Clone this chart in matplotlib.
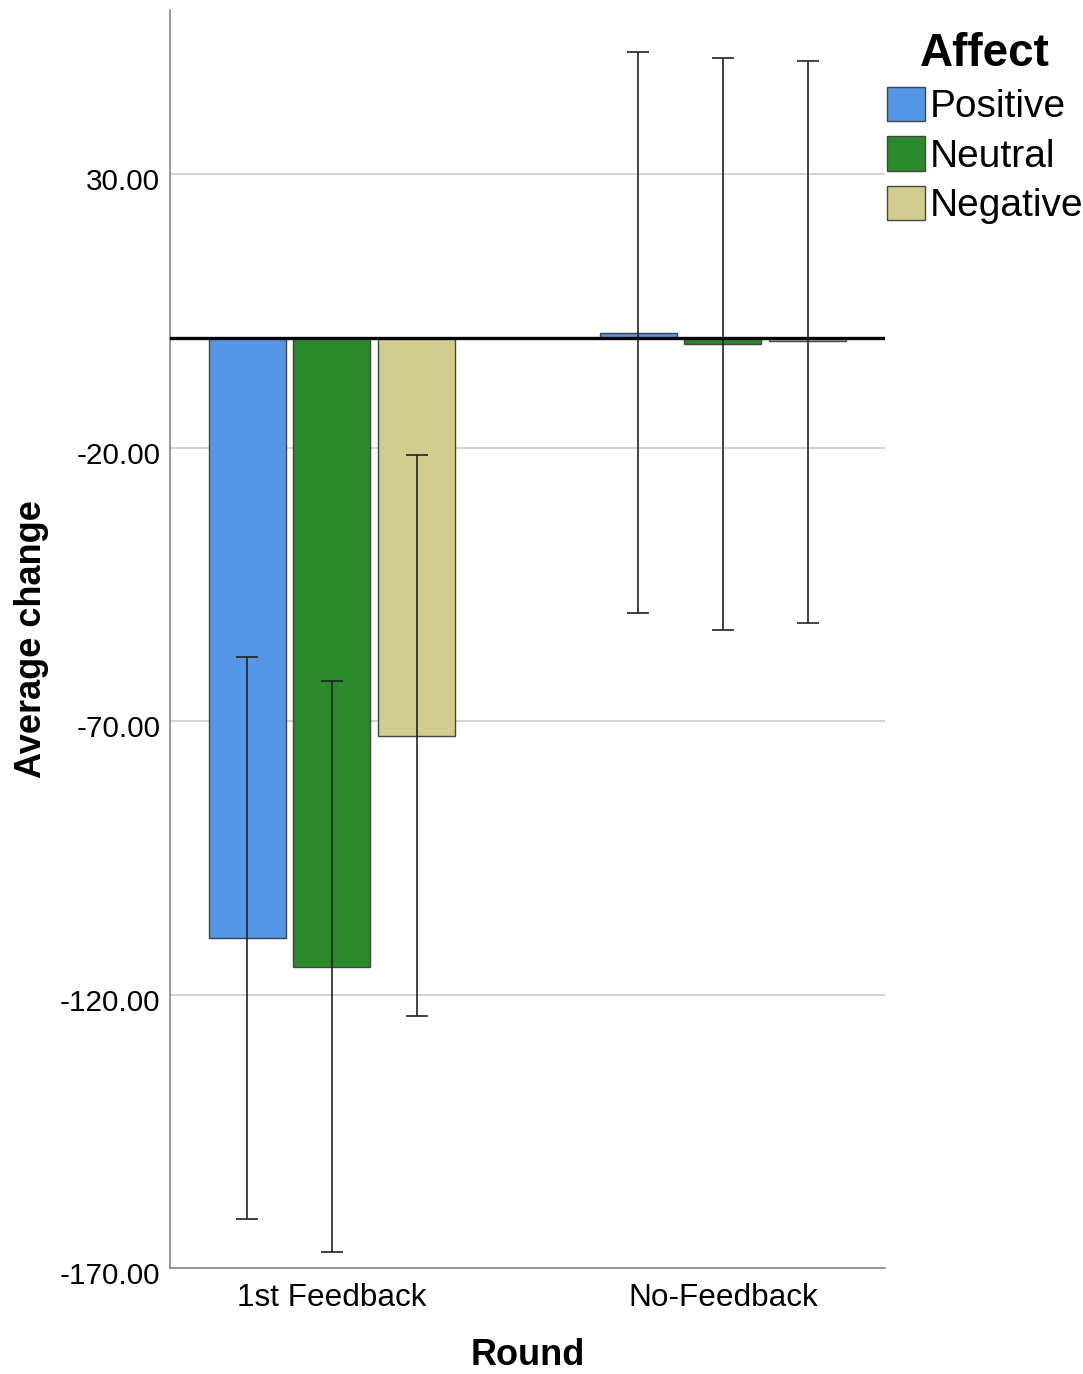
import numpy as np
import matplotlib
matplotlib.use("Agg")
from matplotlib import pyplot as plt
from matplotlib.patches import Patch
from matplotlib.transforms import ScaledTranslation

plt.rcParams['font.family'] = ['Liberation Sans', 'DejaVu Sans']

rounds = ["1st Feedback", "No-Feedback"]
affects = ["Positive", "Neutral", "Negative"]
colors = ["#5596E6", "#2A8A2B", "#D2CC8E"]

# mean change per affect, one value per round
means = {
    "Positive": [-109.6, 1.0],
    "Neutral": [-114.9, -1.0],
    "Negative": [-72.7, -0.5],
}
# error bar ends (lower, upper)
err_lo = {
    "Positive": [-161.0, -50.3],
    "Neutral": [-167.1, -53.4],
    "Negative": [-124.0, -52.0],
}
err_hi = {
    "Positive": [-58.3, 52.4],
    "Neutral": [-62.7, 51.2],
    "Negative": [-21.3, 50.6],
}
yticks = [-170, -120, -70, -20, 30]

fig = plt.figure(figsize=(10.83, 13.74), dpi=100)
ax = fig.add_axes([0.157, 0.0771, 0.66, 0.9156])

x = np.arange(len(rounds))
w = 0.197
off = 0.217
for i, a in enumerate(affects):
    xs = x + (i - 1) * off
    m = np.array(means[a])
    lo = m - np.array(err_lo[a])
    hi = np.array(err_hi[a]) - m
    ax.bar(xs, m, width=w, color=colors[i], edgecolor="#444444", linewidth=1.0, zorder=2, label=a)
    ax.errorbar(xs, m, yerr=[lo, hi], fmt="none", ecolor="#222222", elinewidth=1.2,
                capsize=8, capthick=1.2, zorder=3)

ax.axhline(0, color="black", linewidth=2.4, zorder=4)

ax.set_xlim(-0.414, 1.414)
ax.set_ylim(-170, 60)
ax.set_yticks(yticks)
ax.set_yticklabels(["%.2f" % v for v in yticks])
ax.set_xticks(x)
ax.set_xticklabels(rounds)
ax.tick_params(axis="y", length=0, pad=7, labelsize=21.3)
ax.tick_params(axis="x", length=0, pad=11, labelsize=22.7)
# SPSS puts the value labels a little below the grid line
shift = ScaledTranslation(0, -0.05, fig.dpi_scale_trans)
for t in ax.get_yticklabels():
    t.set_transform(t.get_transform() + shift)
ax.yaxis.grid(True, color="#D0D0D0", linewidth=1.3, zorder=0)
ax.set_axisbelow(True)

for s in ["top", "right"]:
    ax.spines[s].set_visible(False)
for s in ["left", "bottom"]:
    ax.spines[s].set_color("#888888")
    ax.spines[s].set_linewidth(1.2)

ax.set_ylabel("Average change", fontsize=26, fontweight="bold", labelpad=8)
ax.set_xlabel("Round", fontsize=26, fontweight="bold", labelpad=18)

handles = [Patch(facecolor=colors[i], edgecolor="#444444", linewidth=1.0) for i in range(3)]
leg = fig.legend(handles, affects, loc="upper left", bbox_to_anchor=(0.805, 0.988),
                 frameon=False, fontsize=28, handlelength=0.98, handleheight=0.98,
                 handletextpad=0.1, labelspacing=0.28, borderaxespad=0,
                 title="Affect", title_fontproperties={"size": 33, "weight": "bold"})

fig.savefig("out.png", dpi=100)
